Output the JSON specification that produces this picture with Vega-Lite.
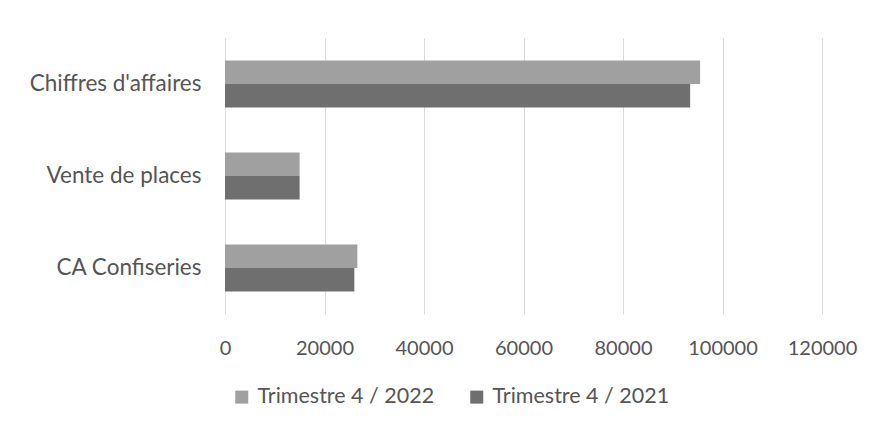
{
  "$schema": "https://vega.github.io/schema/vega-lite/v6.json",
  "width": 597,
  "height": 276,
  "autosize": {"type": "none"},
  "padding": {"left": 225, "top": 38, "right": 58, "bottom": 122},
  "background": "white",
  "data": {
    "values": [
      {"categorie": "Chiffres d'affaires", "periode": "Trimestre 4 / 2022", "montant": 95500},
      {"categorie": "Chiffres d'affaires", "periode": "Trimestre 4 / 2021", "montant": 93500},
      {"categorie": "Vente de places", "periode": "Trimestre 4 / 2022", "montant": 15000},
      {"categorie": "Vente de places", "periode": "Trimestre 4 / 2021", "montant": 15000},
      {"categorie": "CA Confiseries", "periode": "Trimestre 4 / 2022", "montant": 26600},
      {"categorie": "CA Confiseries", "periode": "Trimestre 4 / 2021", "montant": 26000}
    ]
  },
  "mark": {"type": "bar"},
  "encoding": {
    "y": {
      "field": "categorie",
      "type": "nominal",
      "sort": ["Chiffres d'affaires", "Vente de places", "CA Confiseries"],
      "scale": {"paddingInner": 0.49, "paddingOuter": 0.245},
      "axis": {
        "title": null,
        "domain": false,
        "ticks": false,
        "labelFont": "Lato",
        "labelFontSize": 22.5,
        "labelColor": "#555555",
        "labelPadding": 24,
        "labelLimit": 300
      }
    },
    "yOffset": {
      "field": "periode",
      "type": "nominal",
      "sort": ["Trimestre 4 / 2022", "Trimestre 4 / 2021"],
      "scale": {"paddingInner": 0, "paddingOuter": 0}
    },
    "x": {
      "field": "montant",
      "type": "quantitative",
      "scale": {"domain": [0, 120000], "nice": false},
      "axis": {
        "title": null,
        "values": [0, 20000, 40000, 60000, 80000, 100000, 120000],
        "format": "d",
        "domain": false,
        "ticks": false,
        "grid": true,
        "gridColor": "#d9d9d9",
        "gridWidth": 1,
        "labelFont": "Lato",
        "labelFontSize": 20,
        "labelColor": "#555555",
        "labelPadding": 24,
        "labelOverlap": false,
        "labelFlush": false
      }
    },
    "color": {
      "field": "periode",
      "type": "nominal",
      "sort": ["Trimestre 4 / 2022", "Trimestre 4 / 2021"],
      "scale": {"range": ["#a0a0a0", "#6f6f6f"]},
      "legend": {
        "title": null,
        "orient": "none",
        "direction": "horizontal",
        "legendX": 6,
        "legendY": 348,
        "symbolType": "square",
        "symbolSize": 169,
        "symbolStrokeWidth": 0,
        "labelFont": "Lato",
        "labelFontSize": 21.5,
        "labelColor": "#555555",
        "labelOffset": 5,
        "labelLimit": 300,
        "columnPadding": 31,
        "symbolOffset": 0
      }
    }
  },
  "config": {"view": {"stroke": null}}
}
